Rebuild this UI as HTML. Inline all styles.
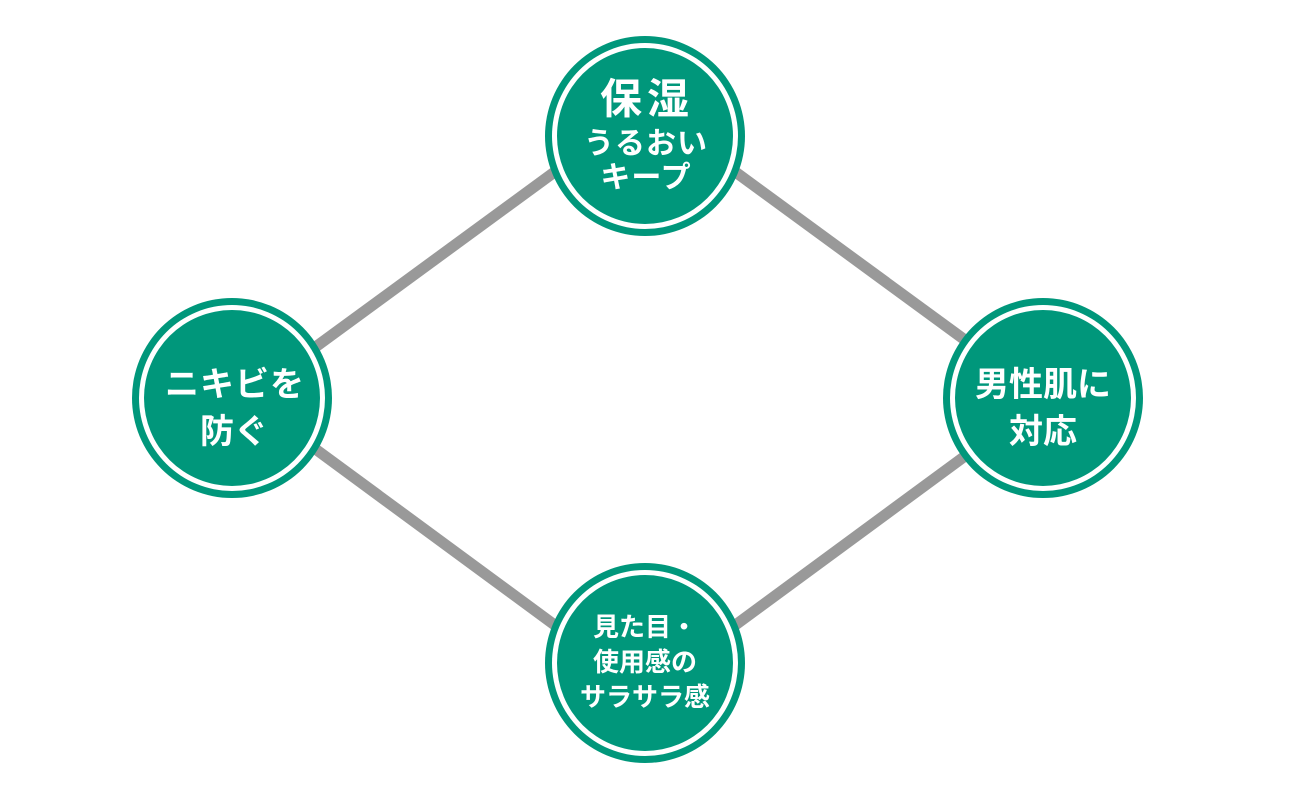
<!DOCTYPE html>
<html><head><meta charset="utf-8"><style>
body{margin:0;background:#fff;}
svg text{font-family:"Liberation Sans","Noto Sans CJK JP",sans-serif;font-weight:bold;fill:#fff;text-anchor:middle;dominant-baseline:central;}
</style></head><body>
<svg width="1300" height="800" viewBox="0 0 1300 800">
<g stroke="#999" stroke-width="11">
<line x1="295" y1="362" x2="575" y2="157"/>
<line x1="715" y1="157" x2="995" y2="362"/>
<line x1="295" y1="434" x2="575" y2="640"/>
<line x1="715" y1="640" x2="995" y2="434"/>
</g>
<g>
<circle cx="645" cy="136" r="100" fill="#00977b"/><circle cx="645" cy="136" r="93" fill="#fff"/><circle cx="645" cy="136" r="88" fill="#00977b"/>
<circle cx="232" cy="398" r="100" fill="#00977b"/><circle cx="232" cy="398" r="93" fill="#fff"/><circle cx="232" cy="398" r="88" fill="#00977b"/>
<circle cx="1043" cy="398" r="100" fill="#00977b"/><circle cx="1043" cy="398" r="93" fill="#fff"/><circle cx="1043" cy="398" r="88" fill="#00977b"/>
<circle cx="645" cy="663" r="100" fill="#00977b"/><circle cx="645" cy="663" r="93" fill="#fff"/><circle cx="645" cy="663" r="88" fill="#00977b"/>
</g>
<text x="647" y="99" font-size="42" letter-spacing="5">保湿</text>
<text x="646" y="144" font-size="30" letter-spacing="1">うるおい</text>
<text x="646" y="178" font-size="30" letter-spacing="1">キープ</text>
<text x="235" y="385" font-size="34" letter-spacing="1">ニキビを</text>
<text x="234" y="432" font-size="34">防ぐ</text>
<text x="1043" y="385" font-size="34">男性肌に</text>
<text x="1043" y="432" font-size="34">対応</text>
<text x="645" y="627" font-size="26">見た目・</text>
<text x="645" y="662" font-size="26">使用感の</text>
<text x="645" y="697" font-size="26">サラサラ感</text>
</svg>
</body></html>
